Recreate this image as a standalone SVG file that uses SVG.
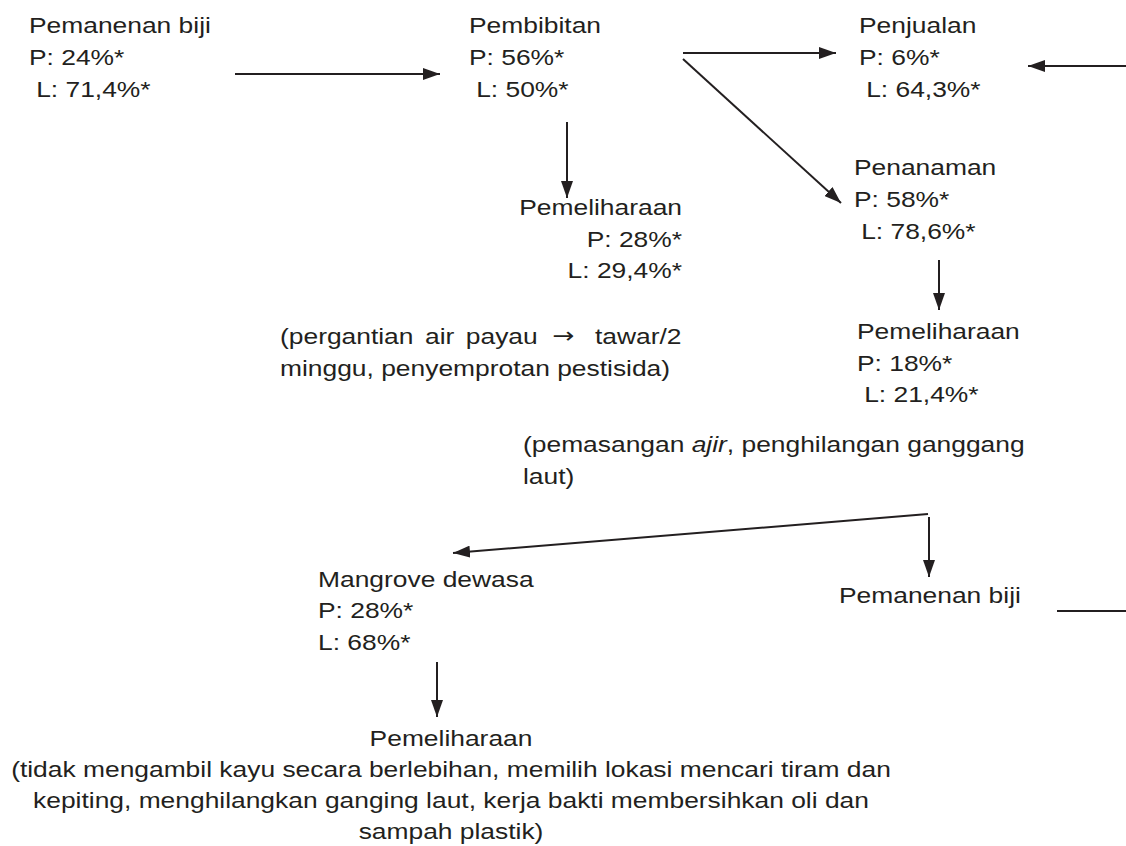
<svg xmlns="http://www.w3.org/2000/svg" width="1126" height="846" viewBox="0 0 1126 846">
<style>
text{font-family:"Liberation Sans",Arial,sans-serif;font-size:22px;fill:#231f20}
.c line{stroke:#231f20;stroke-width:2;fill:none}
.r{text-anchor:end}
.m{text-anchor:middle}
</style>
<defs>
<marker id="ah" markerUnits="userSpaceOnUse" markerWidth="17" markerHeight="12" refX="17" refY="6" orient="auto">
<path d="M0,0 L17,6 L0,12 z" fill="#231f20"/>
</marker>
</defs>
<rect width="1126" height="846" fill="#fff"/>
<g class="c" id="connectors">
<line x1="235" y1="74" x2="440" y2="74" marker-end="url(#ah)"/>
<line x1="683" y1="53" x2="836" y2="53" marker-end="url(#ah)"/>
<line x1="683" y1="59" x2="841" y2="203" marker-end="url(#ah)"/>
<line x1="1126" y1="66" x2="1028" y2="66" marker-end="url(#ah)"/>
<line x1="567" y1="122" x2="567" y2="198" marker-end="url(#ah)"/>
<line x1="939" y1="260" x2="939" y2="310" marker-end="url(#ah)"/>
<line x1="928" y1="514" x2="453" y2="553" marker-end="url(#ah)"/>
<line x1="929" y1="517" x2="929" y2="577" marker-end="url(#ah)"/>
<line x1="1057" y1="611" x2="1126" y2="611"/>
<line x1="437" y1="662" x2="437" y2="717" marker-end="url(#ah)"/>
</g>
<g id="n-pemanenan1"><text transform="translate(29,33) scale(1.2 1)"><tspan x="0" y="0">Pemanenan biji</tspan><tspan x="0" y="32">P: 24%*</tspan><tspan x="6" y="64">L: 71,4%*</tspan></text></g>
<g id="n-pembibitan"><text transform="translate(469,33) scale(1.2 1)"><tspan x="0" y="0">Pembibitan</tspan><tspan x="0" y="32">P: 56%*</tspan><tspan x="6" y="64">L: 50%*</tspan></text></g>
<g id="n-penjualan"><text transform="translate(859,33) scale(1.2 1)"><tspan x="0" y="0">Penjualan</tspan><tspan x="0" y="32">P: 6%*</tspan><tspan x="6" y="64">L: 64,3%*</tspan></text></g>
<g id="n-pemeliharaan1"><text class="r" transform="translate(682,215) scale(1.2 1)"><tspan x="0" y="0">Pemeliharaan</tspan><tspan x="0" y="32">P: 28%*</tspan><tspan x="0" y="63">L: 29,4%*</tspan></text>
<text transform="translate(280,344) scale(1.2 1)"><tspan x="0" y="0" word-spacing="3.5">(pergantian air payau</tspan><tspan x="227" y="-1" style="font-family:'DejaVu Sans','Liberation Sans',sans-serif;font-size:22px">→</tspan><tspan x="262.5" y="0">tawar/2</tspan><tspan x="0" y="32">minggu, penyemprotan pestisida)</tspan></text></g>
<g id="n-penanaman"><text transform="translate(854,175) scale(1.2 1)"><tspan x="0" y="0">Penanaman</tspan><tspan x="0" y="32">P: 58%*</tspan><tspan x="6" y="64">L: 78,6%*</tspan></text></g>
<g id="n-pemeliharaan2"><text transform="translate(857,339) scale(1.2 1)"><tspan x="0" y="0">Pemeliharaan</tspan><tspan x="0" y="32">P: 18%*</tspan><tspan x="6" y="63">L: 21,4%*</tspan></text>
<text transform="translate(523,452) scale(1.2 1)"><tspan x="0" y="0">(pemasangan <tspan font-style="italic">ajir</tspan>, penghilangan ganggang</tspan><tspan x="0" y="32">laut)</tspan></text></g>
<g id="n-mangrove"><text transform="translate(318,587) scale(1.2 1)"><tspan x="0" y="0">Mangrove dewasa</tspan><tspan x="0" y="31">P: 28%*</tspan><tspan x="0" y="63">L: 68%*</tspan></text></g>
<g id="n-pemanenan2"><text transform="translate(839,603) scale(1.2 1)">Pemanenan biji</text></g>
<g id="n-pemeliharaan3"><text class="m" transform="translate(451,746) scale(1.2 1)"><tspan x="0" y="0">Pemeliharaan</tspan><tspan x="0" y="31">(tidak mengambil kayu secara berlebihan, memilih lokasi mencari tiram dan</tspan><tspan x="0" y="62">kepiting, menghilangkan ganging laut, kerja bakti membersihkan oli dan</tspan><tspan x="0" y="93">sampah plastik)</tspan></text></g>
</svg>
